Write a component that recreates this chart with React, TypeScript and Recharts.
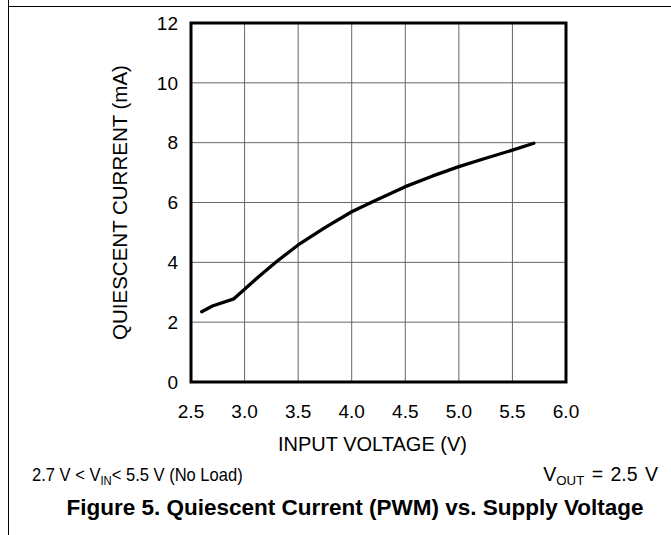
import React from 'react';
import {
    LineChart,
    Line,
    XAxis,
    YAxis,
    CartesianGrid,
    ReferenceArea,
} from 'recharts';

// values
const inputVoltage = [2.6, 2.7, 2.9, 3.0, 3.15, 3.3, 3.5, 3.75, 4.0, 4.2, 4.5, 4.75, 5.0, 5.25, 5.5, 5.7];
const quiescentCurrent = [2.35, 2.54, 2.78, 3.1, 3.58, 4.03, 4.58, 5.16, 5.69, 6.03, 6.53, 6.88, 7.2, 7.48, 7.75, 7.98];

const xTicks = [2.5, 3.0, 3.5, 4.0, 4.5, 5.0, 5.5, 6.0];
const yTicks = [0, 2, 4, 6, 8, 10, 12];

const chartData = inputVoltage.map((v, i) => ({ vin: v, iq: quiescentCurrent[i] }));

const FONT = '"Liberation Sans", Arial, Helvetica, sans-serif';

const YTitle = ({ viewBox }: any) => {
    const x = viewBox.x + 7;
    const y = viewBox.y + viewBox.height / 2;
    return (
        <text
            x={x}
            y={y}
            transform={`rotate(-90, ${x}, ${y})`}
            textAnchor="middle"
            fill="#000"
            fontSize={20.5}
            fontFamily={FONT}
        >
            QUIESCENT CURRENT (mA)
        </text>
    );
};

export default function App() {
    const text: React.CSSProperties = {
        position: 'absolute',
        fontFamily: FONT,
        fontSize: 19,
        lineHeight: '19px',
        color: '#000',
        whiteSpace: 'nowrap',
    };
    const sub: React.CSSProperties = { fontSize: '0.68em', position: 'relative', top: '0.28em' };

    return (
        <div style={{ position: 'absolute', left: 0, top: 0, width: 671, height: 535, background: '#fff', overflow: 'hidden' }}>
            {/* page frame lines */}
            <div style={{ position: 'absolute', left: 8, top: 0, width: 1, height: 535, background: '#000' }} />
            <div style={{ position: 'absolute', left: 8, top: 6, width: 663, height: 1, background: '#000' }} />

            <LineChart
                width={671}
                height={535}
                data={chartData}
                margin={{ top: 23, right: 105, bottom: 78, left: 120 }}
                style={{ position: 'absolute', left: 0, top: 0 }}
            >
                <CartesianGrid stroke="#666" strokeWidth={1} />
                <XAxis
                    dataKey="vin"
                    type="number"
                    domain={[2.5, 6]}
                    ticks={xTicks}
                    tickFormatter={(v) => v.toFixed(1)}
                    height={75}
                    axisLine={false}
                    tickLine={false}
                    tickSize={0}
                    tickMargin={23}
                    interval={0}
                    tick={{ fill: '#000', fontSize: 19, fontFamily: FONT }}
                    label={{
                        value: 'INPUT VOLTAGE (V)',
                        position: 'insideBottom',
                        offset: 6,
                        dx: -6,
                        fill: '#000',
                        fontSize: 20,
                        fontFamily: FONT,
                    }}
                />
                <YAxis
                    type="number"
                    domain={[0, 12]}
                    ticks={yTicks}
                    width={71}
                    axisLine={false}
                    tickLine={false}
                    tickSize={0}
                    tickMargin={13}
                    interval={0}
                    tick={{ fill: '#000', fontSize: 19, fontFamily: FONT }}
                    label={{ content: <YTitle /> }}
                />
                <ReferenceArea
                    x1={2.5}
                    x2={6}
                    y1={0}
                    y2={12}
                    fill="none"
                    stroke="#000"
                    strokeWidth={3}
                />
                <Line
                    dataKey="iq"
                    type="linear"
                    stroke="#000"
                    strokeWidth={3.3}
                    strokeLinejoin="round"
                    strokeLinecap="round"
                    dot={false}
                    isAnimationActive={false}
                />
            </LineChart>

            <div style={{ ...text, left: 32, top: 465, transform: 'scaleX(0.87)', transformOrigin: 'left center' }}>
                2.7 V &lt; V<span style={sub}>IN</span>&lt; 5.5 V (No Load)
            </div>
            <div style={{ ...text, right: 13, top: 465, fontSize: 19.5, wordSpacing: 2 }}>
                V<span style={sub}>OUT</span> = 2.5 V
            </div>
            <div style={{ ...text, left: -45, width: 800, top: 497, textAlign: 'center', fontWeight: 'bold', fontSize: 22.5, lineHeight: '22px' }}>
                Figure 5. Quiescent Current (PWM) vs. Supply Voltage
            </div>
        </div>
    );
}
